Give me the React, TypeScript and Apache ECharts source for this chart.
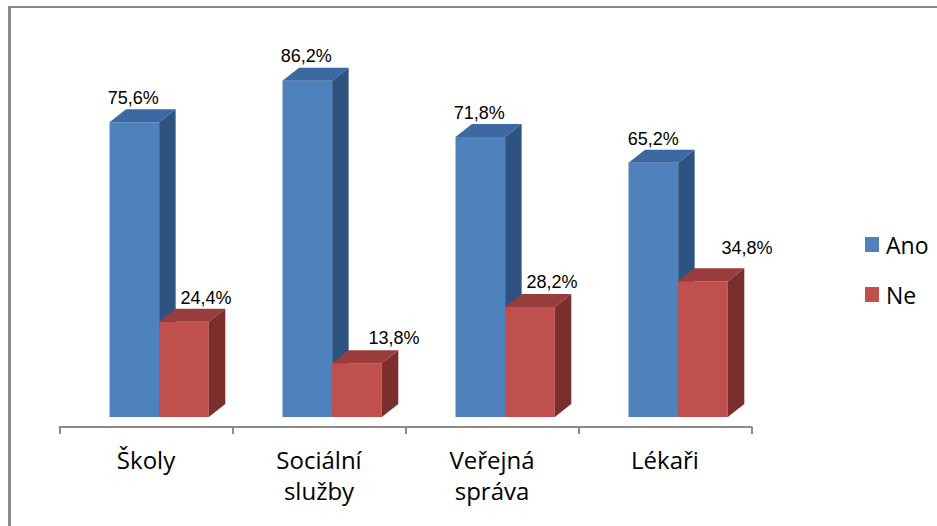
import React, { useEffect, useRef } from "react";
import * as echarts from "echarts";

const categories = ["Školy", "Sociální\nslužby", "Veřejná\nspráva", "Lékaři"];
const seriesNames = ["Ano", "Ne"];
const anoValues = [75.6, 86.2, 71.8, 65.2];
const neValues = [24.4, 13.8, 28.2, 34.8];

// styling
const palette = [
  { front: "#4f81bd", top: "#3c69a1", side: "#2f5381" },
  { front: "#c0504d", top: "#983d3b", side: "#7a2f2d" },
];
const labelShiftX = [
  [-1, -1, -1, 0],
  [22, 37, 22, 44],
];
const labelShiftY = [
  [-24, -25, -24, -24],
  [-24, -25, -25, -33],
];
const DEPTH_X = 16.5;
const DEPTH_Y = 13;

function fmt(v: number) {
  return v.toFixed(1).replace(".", ",") + "%";
}

export default function App() {
  const ref = useRef<HTMLDivElement>(null);
  useEffect(() => {
    if (!ref.current) return;
    const chart = echarts.init(ref.current, null, { renderer: "svg" });
    const makeSeries = (si: number, vals: number[]) => ({
      type: "custom",
      name: seriesNames[si],
      itemStyle: { color: palette[si].front },
      data: vals.map((v, i) => [i, v]),
      renderItem: (params: any, api: any) => {
        const ci = api.value(0);
        const v = api.value(1);
        const base = api.coord([ci, 0]);
        const topPt = api.coord([ci, v]);
        const band = api.size([1, 0])[0];
        const w = band * 0.287;
        const left = base[0] - band * 0.211 + si * w;
        const by = base[1];
        const ty = topPt[1];
        const c = palette[si];
        return {
          type: "group",
          children: [
            {
              type: "polygon",
              shape: { points: [[left, by], [left + w, by], [left + w, ty], [left, ty]] },
              style: { fill: c.front },
            },
            {
              type: "polygon",
              shape: {
                points: [
                  [left, ty],
                  [left + w, ty],
                  [left + w + DEPTH_X, ty - DEPTH_Y],
                  [left + DEPTH_X, ty - DEPTH_Y],
                ],
              },
              style: { fill: c.top },
            },
            {
              type: "polygon",
              shape: {
                points: [
                  [left + w, by],
                  [left + w + DEPTH_X, by - DEPTH_Y],
                  [left + w + DEPTH_X, ty - DEPTH_Y],
                  [left + w, ty],
                ],
              },
              style: { fill: c.side },
            },
            {
              type: "text",
              style: {
                text: fmt(v),
                x: left + w / 2 + labelShiftX[si][ci],
                y: ty + labelShiftY[si][ci],
                fill: "#000",
                fontSize: 18,
                fontFamily: "Liberation Sans",
                align: "center",
                verticalAlign: "middle",
                textAlign: "center",
                textVerticalAlign: "middle",
              },
            },
          ],
        };
      },
    });
    chart.setOption({
      animation: false,
      backgroundColor: "#ffffff",
      grid: { left: 59.5, right: 185.5, top: 27, bottom: 99 },
      xAxis: {
        type: "category",
        data: categories,
        axisLine: { onZero: false, lineStyle: { color: "#8c8c8c", width: 2 } },
        axisTick: { show: true, length: 7, interval: 0, lineStyle: { color: "#8c8c8c", width: 2 } },
        axisLabel: {
          interval: 0,
          margin: 17,
          color: "#000",
          fontSize: 24,
          lineHeight: 31,
          fontFamily: "Open Sans",
        },
      },
      yAxis: { type: "value", min: -2.564, max: 100, show: false },
      legend: {
        orient: "vertical",
        left: 860,
        top: 228,
        itemWidth: 14,
        itemHeight: 15,
        itemGap: 27,
        icon: "rect",
        data: seriesNames,
        textStyle: { fontSize: 23, color: "#000", fontFamily: "Open Sans", padding: [0, 0, 0, 2] },
      },
      graphic: [
        { type: "rect", shape: { x: 8, y: 6, width: 929, height: 2 }, style: { fill: "#8a8a8a" } },
        { type: "rect", shape: { x: 8, y: 6, width: 3, height: 520 }, style: { fill: "#8a8a8a" } },
      ],
      series: [makeSeries(0, anoValues), makeSeries(1, neValues)],
    });
    return () => chart.dispose();
  }, []);
  return (
    <div
      ref={ref}
      style={{ position: "fixed", left: 0, top: 0, width: 937, height: 526 }}
    />
  );
}
